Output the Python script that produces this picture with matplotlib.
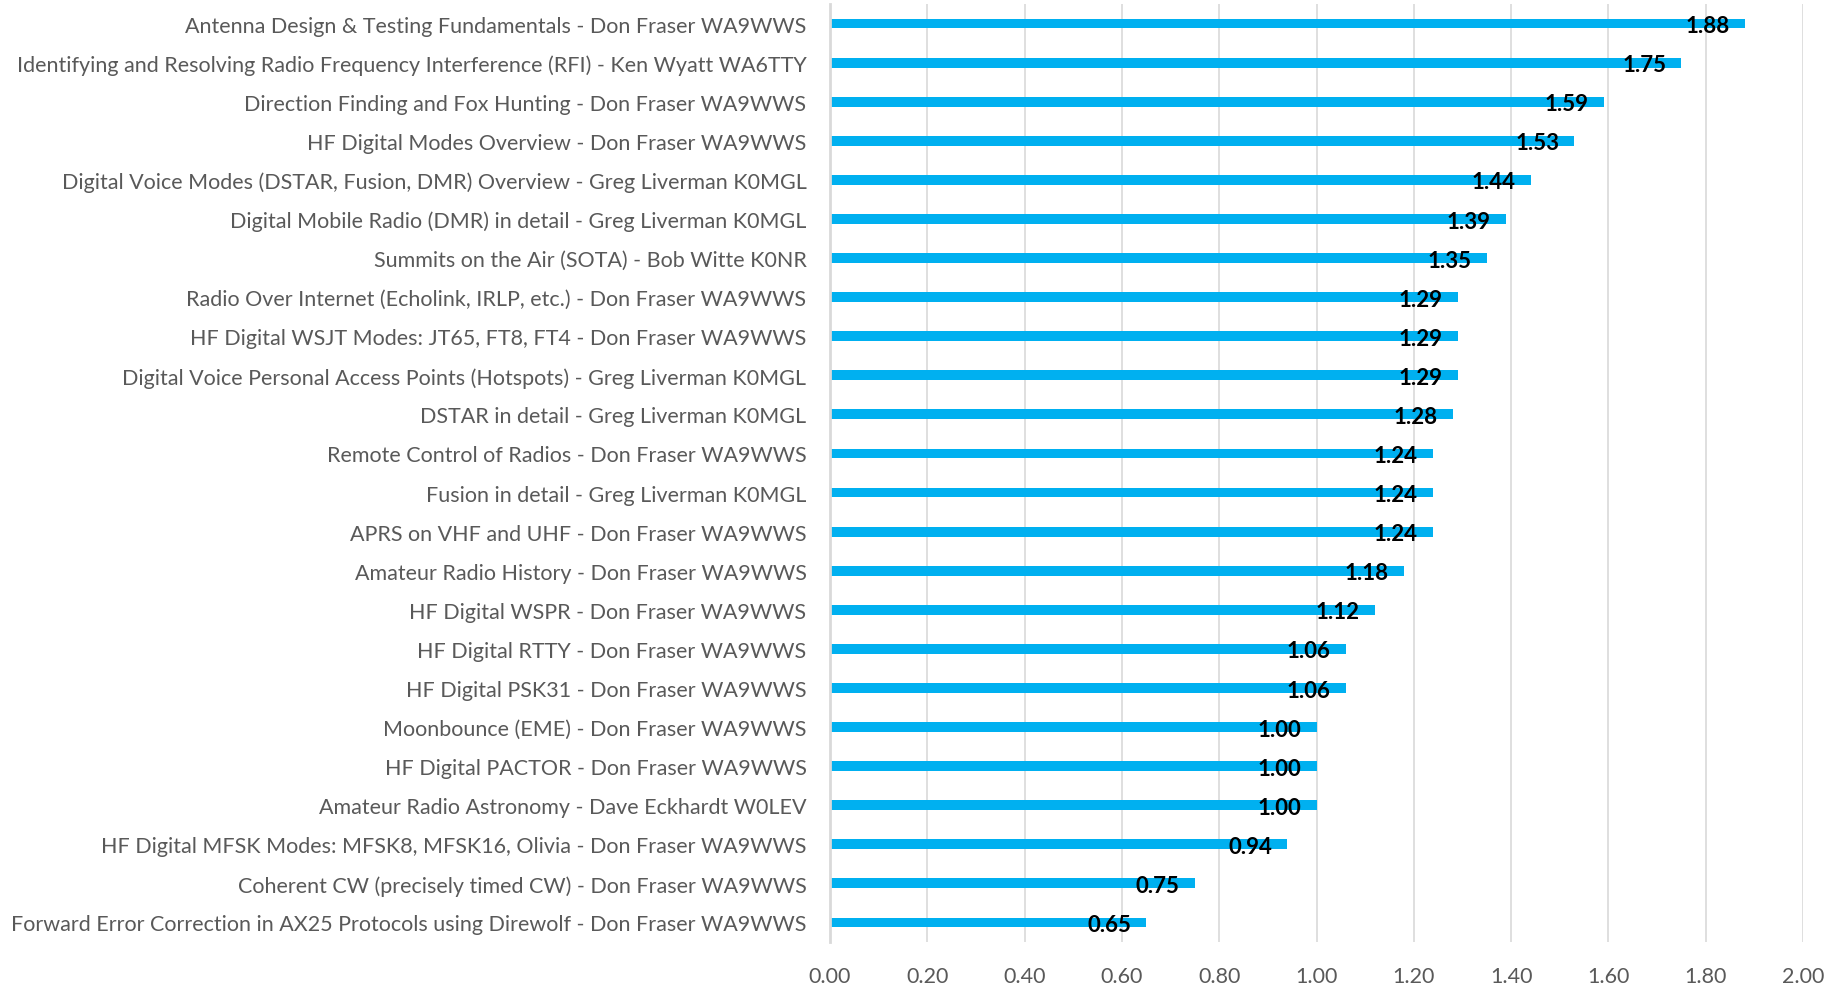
import matplotlib
matplotlib.use("Agg")
import matplotlib.pyplot as plt

categories = [
    "Antenna Design & Testing Fundamentals - Don Fraser WA9WWS",
    "Identifying and Resolving Radio Frequency Interference (RFI) - Ken Wyatt WA6TTY",
    "Direction Finding and Fox Hunting - Don Fraser WA9WWS",
    "HF Digital Modes Overview - Don Fraser WA9WWS",
    "Digital Voice Modes (DSTAR, Fusion, DMR) Overview - Greg Liverman K0MGL",
    "Digital Mobile Radio (DMR) in detail - Greg Liverman K0MGL",
    "Summits on the Air (SOTA) - Bob Witte K0NR",
    "Radio Over Internet (Echolink, IRLP, etc.) - Don Fraser WA9WWS",
    "HF Digital WSJT Modes: JT65, FT8, FT4 - Don Fraser WA9WWS",
    "Digital Voice Personal Access Points (Hotspots) - Greg Liverman K0MGL",
    "DSTAR in detail - Greg Liverman K0MGL",
    "Remote Control of Radios - Don Fraser WA9WWS",
    "Fusion in detail - Greg Liverman K0MGL",
    "APRS on VHF and UHF - Don Fraser WA9WWS",
    "Amateur Radio History - Don Fraser WA9WWS",
    "HF Digital WSPR - Don Fraser WA9WWS",
    "HF Digital RTTY - Don Fraser WA9WWS",
    "HF Digital PSK31 - Don Fraser WA9WWS",
    "Moonbounce (EME) - Don Fraser WA9WWS",
    "HF Digital PACTOR - Don Fraser WA9WWS",
    "Amateur Radio Astronomy - Dave Eckhardt W0LEV",
    "HF Digital MFSK Modes: MFSK8, MFSK16, Olivia - Don Fraser WA9WWS",
    "Coherent CW (precisely timed CW) - Don Fraser WA9WWS",
    "Forward Error Correction in AX25 Protocols using Direwolf - Don Fraser WA9WWS",
]
values = [1.88, 1.75, 1.59, 1.53, 1.44, 1.39, 1.35, 1.29, 1.29, 1.29, 1.28, 1.24,
          1.24, 1.24, 1.18, 1.12, 1.06, 1.06, 1.00, 1.00, 1.00, 0.94, 0.75, 0.65]
xticks = [0.0, 0.2, 0.4, 0.6, 0.8, 1.0, 1.2, 1.4, 1.6, 1.8, 2.0]

plt.rcParams['font.family'] = ['Lato', 'DejaVu Sans']

fig = plt.figure(figsize=(18.39, 9.87), dpi=100)
ax = fig.add_axes([830/1839, 1 - 943/987, (1803-830)/1839, (943-5)/987])

n = len(categories)
ypos = list(range(n - 1, -1, -1))
ax.barh(ypos, values, height=0.25, color="#00B0F0", zorder=3)
ax.set_ylim(-0.5, n - 0.5)
ax.set_xlim(0, 2.0)
ax.set_xticks(xticks)
ax.set_xticklabels([f"{t:.2f}" for t in xticks], fontsize=15.5, color="#595959")
ax.set_yticks(ypos)
ax.set_yticklabels(categories, fontsize=15.5, color="#595959")
ax.tick_params(axis='both', length=0)
ax.tick_params(axis='y', pad=17)
ax.tick_params(axis='x', pad=17)

ax.grid(axis='x', color="#D9D9D9", linewidth=1.2, zorder=0)
for s in ['top', 'right', 'bottom']:
    ax.spines[s].set_visible(False)
ax.spines['left'].set_color("#D9D9D9")
ax.spines['left'].set_linewidth(2)
ax.spines['left'].set_zorder(4)

for y, v in zip(ypos, values):
    ax.annotate(f"{v:.2f}", xy=(v, y), xytext=(-11, -1.5), textcoords='offset points',
                ha='right', va='center', fontsize=16, fontweight='bold', color='black', zorder=5)

fig.savefig("out.png", dpi=100)
